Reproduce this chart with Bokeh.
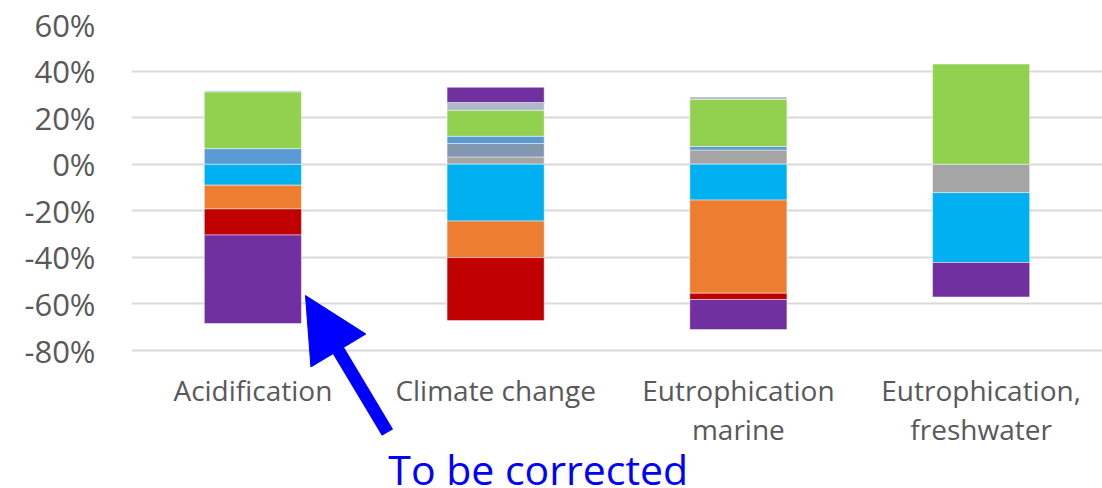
import numpy as np
from bokeh.plotting import figure
from bokeh.models import (FactorRange, Range1d, FixedTicker, PrintfTickFormatter,
                          Arrow, NormalHead, Label)
from bokeh.core.properties import value
from bokeh.embed import file_html
from bokeh.resources import INLINE

# Impact categories (x axis) and their two-line captions
categories = ["Acidification", "Climate change", "Eutrophication marine",
              "Eutrophication, freshwater"]
caption_line1 = ["Acidification", "Climate change", "Eutrophication", "Eutrophication,"]
caption_line2 = ["", "", "marine", "freshwater"]

# Contribution of each process, in % (one value per category)
gray       = [0.0,   3.1,   6.1, -12.2]
slate      = [0.0,   5.8,   0.0,   0.0]
cyan       = [-9.0, -24.4, -15.4, -30.0]
orange     = [-10.2, -15.7, -40.0,  0.0]
red        = [-11.2, -27.0,  -2.7,  0.0]
blue       = [6.7,   3.1,   1.5,   0.0]
green      = [24.4,  11.2,  20.3,  43.0]
lightslate = [0.5,   3.3,   1.0,   0.0]
purple     = [-38.0,  6.5, -12.9, -14.8]

series = [gray, slate, cyan, orange, red, blue, green, lightslate, purple]
colors = ["#A5A5A5", "#8497B0", "#00B0F0", "#ED7D31", "#C00000",
          "#5B9BD5", "#92D050", "#ADB9CA", "#7030A0"]

y_ticks = [-80, -60, -40, -20, 0, 20, 40, 60]

FONT = "Open Sans"
TXT = "#595959"

# The frame runs down to the bottom of the page so the captions and the
# callout below the -80% line can be drawn in data space.
p = figure(width=1102, height=488, output_backend="svg", toolbar_location=None,
           x_range=FactorRange(factors=categories, range_padding=0),
           y_range=Range1d(-139.26, 60),
           min_border_left=131, min_border_right=0,
           min_border_top=24, min_border_bottom=0)
p.outline_line_color = None
p.background_fill_color = "white"
p.border_fill_color = "white"

# Stack positives upward and negatives downward, series by series
pos_base = np.zeros(len(categories))
neg_base = np.zeros(len(categories))
for vals, col in zip(series, colors):
    v = np.array(vals, dtype=float)
    bottom = np.where(v >= 0, pos_base, neg_base)
    top = bottom + v
    pos_base = np.where(v >= 0, top, pos_base)
    neg_base = np.where(v < 0, top, neg_base)
    keep = v != 0
    p.vbar(x=[c for c, k in zip(categories, keep) if k],
           bottom=bottom[keep], top=top[keep], width=0.4,
           fill_color=col, line_color="white", line_alpha=0.45, line_width=1)

# Axes and grid
p.xaxis.visible = False
p.xgrid.grid_line_color = None
p.ygrid.grid_line_color = "#D9D9D9"
p.ygrid.grid_line_width = 2

p.yaxis.ticker = FixedTicker(ticks=y_ticks)
p.yaxis.formatter = PrintfTickFormatter(format="%d%%")
p.yaxis.axis_line_color = None
p.yaxis.major_tick_line_color = None
p.yaxis.minor_tick_line_color = None
p.yaxis.major_label_text_font = FONT
p.yaxis.major_label_text_font_size = "31px"
p.yaxis.major_label_text_color = TXT
p.yaxis.major_label_standoff = 30

# Category captions under the bars
p.text(x=categories, y=[-96.8] * 4, text=caption_line1, text_align="center",
       text_baseline="alphabetic", text_font=value(FONT), text_font_size="28px",
       text_color=TXT)
p.text(x=categories, y=[-113.5] * 4, text=caption_line2, text_align="center",
       text_baseline="alphabetic", text_font=value(FONT), text_font_size="28px",
       text_color=TXT)

# Callout arrow and note
p.add_layout(Arrow(end=NormalHead(size=64, fill_color="#0000FF", line_color="#0000FF"),
                   x_start=1.0546, y_start=-115.2, x_end=0.7168, y_end=-56.4,
                   line_color="#0000FF", line_width=13))
p.add_layout(Label(x=1.058, y=-130.9, text="To be corrected", text_font=FONT,
                   text_font_size="41px", text_color="#0000FF",
                   text_baseline="alphabetic", text_align="left"))

open("out.html", "w").write(file_html(p, INLINE))
